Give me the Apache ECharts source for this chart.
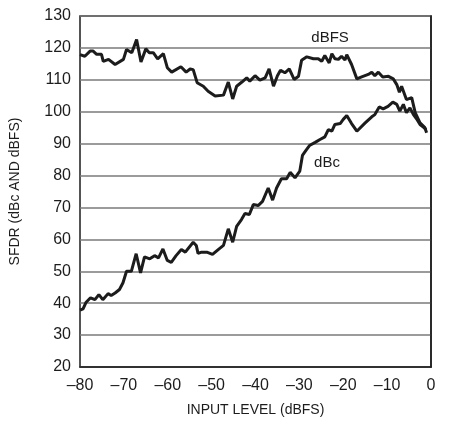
<!DOCTYPE html>
<html>
<head>
<meta charset="utf-8">
<script src="https://cdn.jsdelivr.net/npm/echarts@6/dist/echarts.min.js"></script>
<style>
  html, body { margin: 0; padding: 0; background: #fff; }
  #chart { width: 452px; height: 421px; }
</style>
</head>
<body>
<div id="chart"></div>
<script>
// SFDR versus input level, measured in dBFS and dBc
const inputLevelFS = [-80, -78.9, -77.7, -77, -76.2, -75.1, -74.7, -73.5, -72, -70.1, -69.4, -68.2, -67.1, -66.1, -65, -64.2, -63.3, -62.3, -61, -60.1, -59.1, -57, -55.8, -54.9, -54.2, -53.3, -51.9, -50.8, -49.2, -47.3, -46.2, -45.2, -44.3, -43.1, -42, -41.3, -40.1, -39, -37.8, -36.9, -35.9, -35, -34.3, -33.3, -32.3, -31.2, -30.2, -29.5, -28.3, -26.8, -25.7, -24.9, -24.2, -23.2, -22.6, -21.9, -21.1, -20.4, -19.6, -19.2, -18.1, -16.9, -15.8, -14.3, -13.5, -12.8, -12, -11, -9.7, -8.6, -7.8, -7.2, -6.7, -5.6, -4.4, -3.6, -2.5, -1.4, -1];
const sfdrFS = [117.9, 117.4, 119, 119, 118, 118, 115.8, 116.4, 114.8, 116.4, 119.5, 118.5, 122.6, 115.6, 119.7, 118.5, 118.5, 116.6, 118.2, 113.8, 112.4, 114.1, 112.4, 113.4, 113.2, 109.1, 108, 106.4, 104.9, 105.2, 109.3, 104, 108, 109.3, 110.6, 109.6, 111.3, 109.9, 110.6, 113.4, 108, 111.3, 113, 112.2, 113.4, 110.1, 111.1, 116.1, 117.2, 116.6, 116.6, 115.8, 117.6, 115.3, 118.2, 116.6, 116.4, 117.4, 116.2, 117.9, 114.8, 110.3, 110.9, 111.7, 112.4, 111.3, 112.4, 110.9, 111.1, 110.3, 108.5, 106.1, 108, 103.8, 104.4, 99.7, 96.5, 95, 93.4];

const inputLevelC = [-80, -79.3, -78.6, -77.6, -76.6, -75.7, -74.8, -73.6, -72.9, -72, -71, -70.2, -69.4, -68.3, -67.2, -66.2, -65.3, -64.1, -63, -62.1, -61.1, -60.1, -59.2, -58.1, -56.9, -56, -54.2, -53.5, -53.1, -52.3, -51.1, -49.8, -48.5, -47.3, -46.2, -45.2, -44.3, -43.2, -42.4, -41.4, -40.5, -39.4, -38.4, -37.1, -36.1, -35.2, -34.1, -32.9, -32.1, -31, -29.9, -29.3, -28.5, -27.7, -26.4, -25.3, -24.2, -23.4, -22.6, -21.9, -20.7, -20, -19.2, -18.1, -16.9, -15, -13.5, -12.8, -11.8, -10.9, -9.8, -8.7, -7.8, -7.1, -6.3, -5.6, -4.8, -4, -3.3, -2.5, -1.6, -1.1];
const sfdrC = [37.8, 38.2, 40.3, 41.7, 41.1, 42.7, 41.1, 43, 42.4, 43.2, 44.3, 46.4, 50, 50, 55.5, 49.5, 54.5, 53.9, 54.9, 54.2, 57, 53.4, 52.8, 54.9, 56.8, 56, 59.1, 58.1, 55.6, 56, 56, 55.3, 56.8, 58.1, 63.3, 59.1, 64.1, 66.2, 68.1, 67.8, 70.9, 70.6, 71.9, 76.1, 72.3, 76.1, 79, 79, 81, 79.3, 81.4, 86.3, 87.9, 89.4, 90.4, 91.3, 92.1, 94.4, 93.9, 96, 96.3, 97.6, 98.8, 96.3, 93.9, 96.5, 98.4, 99.1, 101.5, 100.9, 101.7, 103, 102.3, 100.2, 102.3, 99.7, 101.2, 99.1, 97.8, 96, 95, 94.4];

const xTicks = [-80, -70, -60, -50, -40, -30, -20, -10, 0];
const yTicks = [20, 30, 40, 50, 60, 70, 80, 90, 100, 110, 120, 130];

// curve labels placed at data coordinates
const labelFS = { text: 'dBFS', at: [-23, 123.3] };
const labelC = { text: 'dBc', at: [-23.7, 84.1] };

const FONT = '"Liberation Sans", Arial, Helvetica, sans-serif';
const INK = '#1c1c1c';

const pairs = (xs, ys) => xs.map((x, i) => [x, ys[i]]);

const chart = echarts.init(document.getElementById('chart'), null, { renderer: 'canvas' });

function curveLabel(lbl) {
  return {
    symbol: 'circle',
    symbolSize: 0,
    silent: true,
    data: [{ coord: lbl.at }],
    label: {
      show: true,
      position: 'inside',
      formatter: lbl.text,
      color: INK,
      fontFamily: FONT,
      fontSize: 15
    }
  };
}

chart.setOption({
  animation: false,
  backgroundColor: '#fff',
  grid: {
    left: 80, right: 21, top: 16, bottom: 54,
    containLabel: false,
    outerBoundsMode: 'none',
    show: true, borderColor: INK, borderWidth: 1.5
  },
  xAxis: {
    type: 'value',
    min: xTicks[0], max: xTicks[xTicks.length - 1], interval: 10,
    name: 'INPUT LEVEL (dBFS)',
    nameLocation: 'middle', nameGap: 36,
    nameTextStyle: { color: INK, fontFamily: FONT, fontSize: 14 },
    axisLine: { show: true, lineStyle: { color: INK, width: 1.5 } },
    axisTick: { show: false },
    splitLine: { show: false },
    axisLabel: {
      color: INK, fontFamily: FONT, fontSize: 16, margin: 11,
      formatter: v => (v < 0 ? '\u2013' + Math.abs(v) : String(v))
    }
  },
  yAxis: {
    type: 'value',
    min: yTicks[0], max: yTicks[yTicks.length - 1], interval: 10,
    name: 'SFDR (dBc AND dBFS)',
    nameLocation: 'middle', nameGap: 58,
    nameTextStyle: { color: INK, fontFamily: FONT, fontSize: 14 },
    axisLine: { show: true, lineStyle: { color: INK, width: 1.5 } },
    axisTick: { show: false },
    splitLine: { show: true, lineStyle: { color: '#7a7a7a', width: 1.5 } },
    axisLabel: { color: INK, fontFamily: FONT, fontSize: 16, margin: 9 }
  },
  series: [
    {
      name: 'dBFS',
      type: 'line',
      data: pairs(inputLevelFS, sfdrFS),
      showSymbol: false,
      lineStyle: { color: INK, width: 3 },
      markPoint: curveLabel(labelFS)
    },
    {
      name: 'dBc',
      type: 'line',
      data: pairs(inputLevelC, sfdrC),
      showSymbol: false,
      lineStyle: { color: INK, width: 3 },
      markPoint: curveLabel(labelC)
    }
  ]
});
</script>
</body>
</html>
